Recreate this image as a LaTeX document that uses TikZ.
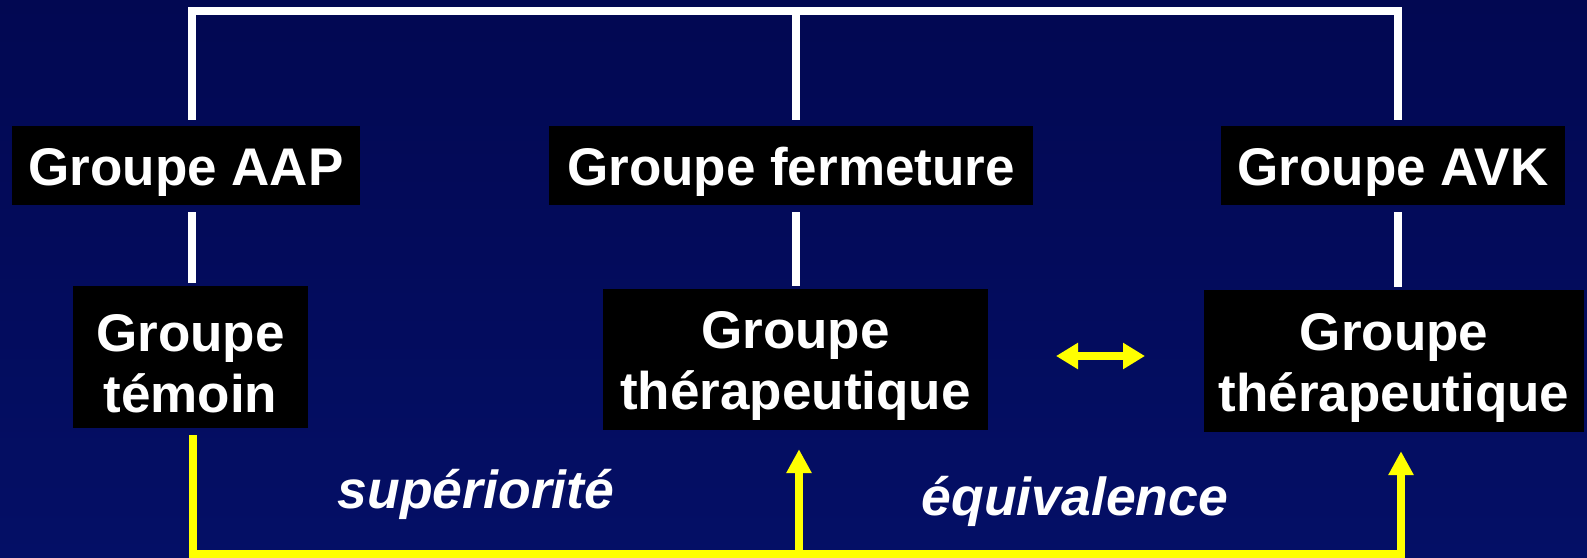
\documentclass[tikz,border=0pt]{standalone}
\usepackage{fontspec}
\setmainfont{Liberation Sans}
\usetikzlibrary{arrows.meta}
\definecolor{bgtop}{RGB}{2,8,82}
\definecolor{bgbot}{RGB}{4,15,102}
\definecolor{yel}{RGB}{255,255,0}
\newcommand{\topstrut}{\rule{0pt}{50pt}}
\begin{document}
\begin{tikzpicture}[x=1pt,y=-1pt,
  box/.style={fill=black,text=white,font=\fontsize{53}{61}\selectfont\bfseries,inner sep=0pt,align=center},
  wline/.style={draw=white,line width=8pt},
  yline/.style={draw=yel,line width=8pt},
  ytip/.style={-{Triangle[width=24pt,length=24pt]}},
  lbl/.style={text=white,font=\fontsize{53.5}{61}\selectfont\bfseries\itshape,inner sep=0pt}]
\shade[top color=bgtop,bottom color=bgbot] (0,0) rectangle (1587,557);
\useasboundingbox (0,0) rectangle (1587,557);
% boxes
\node[box,minimum width=348pt,minimum height=79pt] (aap) at (186,165.5) {\topstrut Groupe AAP};
\node[box,minimum width=484pt,minimum height=79pt] (ferm) at (791,165.5) {\topstrut Groupe fermeture};
\node[box,minimum width=344pt,minimum height=79pt] (avk) at (1393,165.5) {\topstrut Groupe AVK};
\node[box,minimum width=235pt,minimum height=142pt] (tem) at (190.5,357) {\topstrut Groupe\\témoin};
\node[box,minimum width=385pt,minimum height=141pt] (thm) at (795.5,359.5) {\topstrut Groupe\\thérapeutique};
\node[box,minimum width=380pt,minimum height=142pt] (thr) at (1394,361) {\topstrut Groupe\\thérapeutique};
% white tree
\coordinate (t1) at (192,11);
\coordinate (t2) at (796,11);
\coordinate (t3) at (1398,11);
\draw[wline,shorten <=6pt,shorten >=6pt] (aap.north -| t1) -- (t1) -- (t3) -- (avk.north -| t3);
\draw[wline,shorten >=6pt] (t2) -- (ferm.north -| t2);
\draw[wline,shorten <=7pt,shorten >=3pt] (aap.south -| t1) -- (tem.north -| t1);
\draw[wline,shorten <=7pt,shorten >=3pt] (ferm.south -| t2) -- (thm.north -| t2);
\draw[wline,shorten <=7pt,shorten >=3pt] (avk.south -| t3) -- (thr.north -| t3);
% yellow connectors
\coordinate (b1) at (193,554);
\coordinate (b2) at (799,554);
\coordinate (b3) at (1401,554);
\draw[yline,ytip,shorten <=7pt,shorten >=19pt] (tem.south -| b1) -- (b1) -- (b3) -- (thr.south -| b3);
\draw[yline,ytip,shorten >=19pt] (b2) -- (thm.south -| b2);
\coordinate (d1) at (1056,356);
\coordinate (d2) at (1145,356);
\draw[yline,{Triangle[width=25pt,length=22pt]}-{Triangle[width=25pt,length=22pt]}] (d1) -- (d2);
% labels
\node[lbl] (sup) at (476,494) {supériorité};
\node[lbl] (equ) at (1075,501) {équivalence};
\end{tikzpicture}
\end{document}
